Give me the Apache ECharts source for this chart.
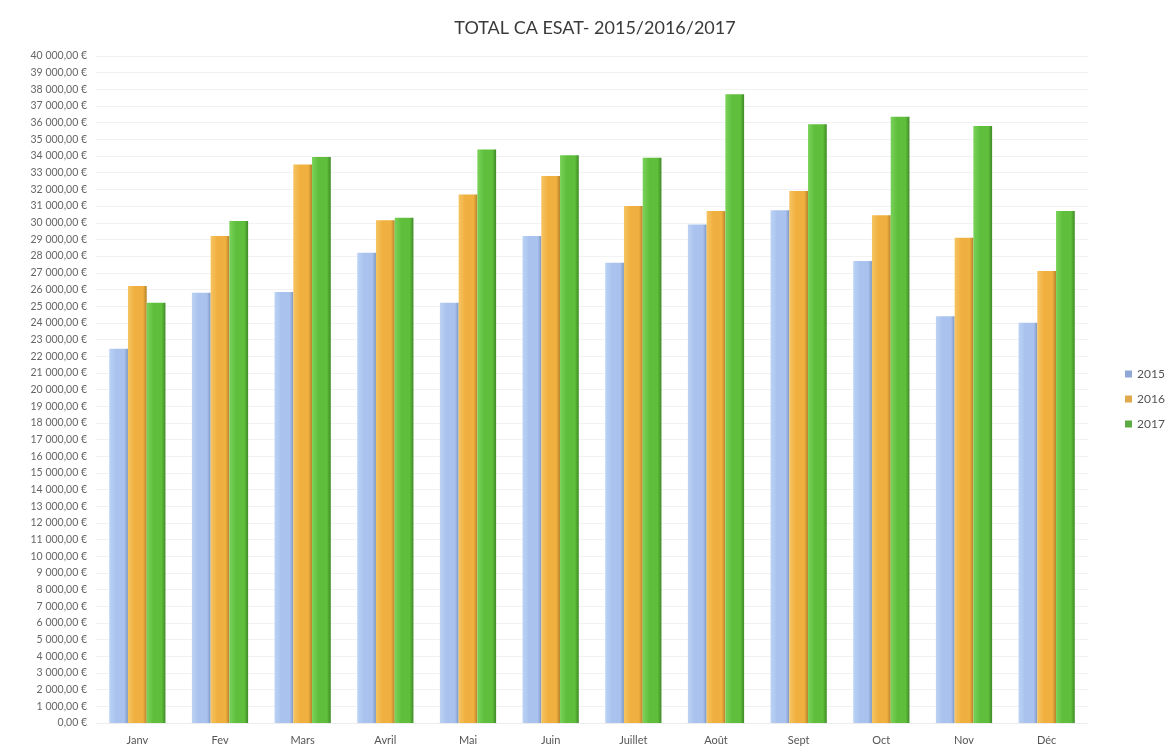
<!DOCTYPE html>
<html>
<head>
<meta charset="utf-8">
<script src="https://cdn.jsdelivr.net/npm/echarts@6/dist/echarts.min.js"></script>
<style>
html,body{margin:0;padding:0;background:#fff;}
#chart{width:1174px;height:746px;}
</style>
</head>
<body>
<div id="chart"></div>
<script>
const categories = ['Janv','Fev','Mars','Avril','Mai','Juin','Juillet','Août','Sept','Oct','Nov','Déc'];
const seriesNames = ['2015','2016','2017'];
const values2015 = [22450, 25800, 25850, 28200, 25200, 29200, 27600, 29900, 30750, 27700, 24400, 24000];
const values2016 = [26200, 29200, 33500, 30150, 31700, 32800, 31000, 30700, 31900, 30450, 29100, 27100];
const values2017 = [25200, 30100, 33950, 30300, 34400, 34050, 33900, 37700, 35900, 36350, 35800, 30700];
const yTicks = {min: 0, max: 40000, interval: 1000};

function grad(light, mid, dark) {
  return new echarts.graphic.LinearGradient(0, 0, 1, 0, [
    {offset: 0, color: light},
    {offset: 0.35, color: mid},
    {offset: 0.8, color: mid},
    {offset: 1, color: dark}
  ]);
}
const colors = [
  grad('#bcd2f4', '#a9c3ee', '#7f98c2'),
  grad('#f6c463', '#f0b040', '#b58228'),
  grad('#7ad25a', '#5fbf3c', '#3f8a26')
];
const legendColors = ['#8fa8d6', '#e0a94a', '#5cab45'];

function fmt(v) {
  const s = Math.round(v).toString().replace(/\B(?=(\d{3})+(?!\d))/g, ' ');
  return s + ',00 €';
}

const chart = echarts.init(document.getElementById('chart'));
const data = [values2015, values2016, values2017];
chart.setOption({
  animation: false,
  title: {
    text: 'TOTAL CA ESAT- 2015/2016/2017',
    left: 590, top: 14, textAlign: 'center',
    textStyle: {fontFamily: 'Lato', fontSize: 18, fontWeight: 'normal', color: '#3a3a3a'}
  },
  legend: {
    orient: 'vertical', left: 1120, top: 363, itemGap: 13,
    itemWidth: 7, itemHeight: 7, icon: 'rect',
    textStyle: {fontFamily: 'Lato', fontSize: 12, color: '#555'},
    data: seriesNames.map((n, i) => ({name: n, itemStyle: {color: legendColors[i]}}))
  },
  grid: {left: 96, right: 86, top: 56, bottom: 23, containLabel: false},
  xAxis: {
    type: 'category', data: categories,
    axisLine: {lineStyle: {color: '#ececec'}},
    axisTick: {show: false},
    axisLabel: {fontFamily: 'Lato', fontSize: 11, color: '#555', margin: 12}
  },
  yAxis: {
    type: 'value', min: yTicks.min, max: yTicks.max, interval: yTicks.interval,
    axisLine: {show: false}, axisTick: {show: false},
    axisLabel: {fontFamily: 'Lato', fontSize: 10.5, color: '#666', margin: 9, formatter: fmt},
    splitLine: {lineStyle: {color: '#f2f2f2'}}
  },
  series: seriesNames.map((n, i) => ({
    name: n, type: 'bar', data: data[i],
    barGap: '0%', barCategoryGap: '32%',
    itemStyle: {color: colors[i]}
  }))
});
</script>
</body>
</html>
